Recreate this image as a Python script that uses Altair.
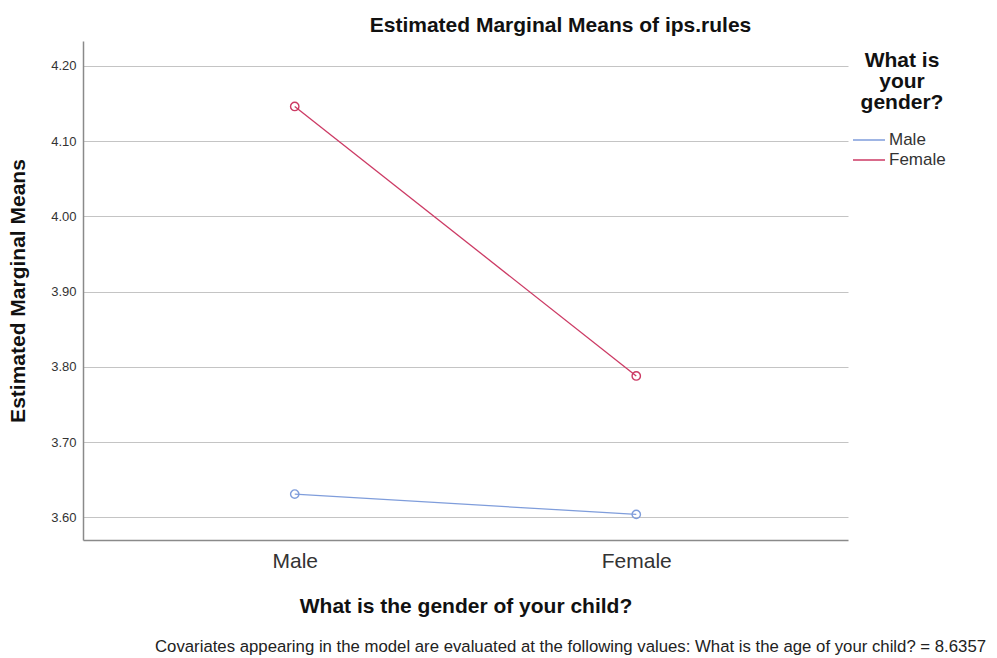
import altair as alt
import pandas as pd

# Estimated marginal means of ips.rules by child gender (x) and parent gender (series)
child_gender = ["Male", "Female"]
parent_gender = ["Male", "Female"]
means_male_parent = [3.631, 3.604]
means_female_parent = [4.146, 3.788]

rows = []
for c, v in zip(child_gender, means_male_parent):
    rows.append({"child": c, "parent": "Male", "mean": v})
for c, v in zip(child_gender, means_female_parent):
    rows.append({"child": c, "parent": "Female", "mean": v})
df = pd.DataFrame(rows)

FONT = "Liberation Sans"
colors = ["#7f9ddb", "#cc3a64"]

x_enc = alt.X(
    "child:N",
    sort=child_gender,
    scale=alt.Scale(type="point", padding=0.62),
    axis=alt.Axis(
        title="What is the gender of your child?",
        titleFontSize=21, titleFontWeight="bold", titleColor="#111",
        titlePadding=24, labelFontSize=21, labelColor="#333",
        labelFontWeight="normal", labelPadding=10, labelAngle=0,
        ticks=False, grid=False, domainColor="#8a8a8a", domainWidth=1.5,
    ),
)
y_enc = alt.Y(
    "mean:Q",
    scale=alt.Scale(domain=[3.57, 4.233], nice=False, zero=False),
    axis=alt.Axis(
        title="Estimated Marginal Means",
        titleFontSize=21, titleFontWeight="bold", titleColor="#111",
        titlePadding=22, labelFontSize=13, labelColor="#333",
        format=".2f", values=[3.6, 3.7, 3.8, 3.9, 4.0, 4.1, 4.2],
        ticks=False, labelPadding=7, grid=True, gridColor="#c4c4c4",
        gridWidth=1, domainColor="#8a8a8a", domainWidth=1.5,
    ),
)
# legend key: a horizontal stroke wider than the symbol cell, so rows stay compact
color_enc = alt.Color(
    "parent:N",
    sort=parent_gender,
    scale=alt.Scale(domain=parent_gender, range=colors),
    legend=alt.Legend(
        title=["What is", "your", "gender?"],
        titleFontSize=21, titleFontWeight="bold", titleColor="#111",
        titleAlign="center", titleAnchor="middle", titleLineHeight=21,
        titlePadding=16, labelFontSize=17, labelColor="#333",
        symbolType="M-1.6,0H1.6", symbolSize=400, symbolStrokeWidth=1.5,
        rowPadding=1, labelOffset=9,
        orient="none", legendX=775, legendY=9,
    ),
)

lines = alt.Chart(df).mark_line(strokeWidth=1.3).encode(
    x=x_enc, y=y_enc, color=color_enc, detail="parent:N"
)
points = alt.Chart(df).mark_point(
    filled=False, size=70, strokeWidth=1.4, shape="circle", opacity=1
).encode(x=x_enc, y=y_enc, color=alt.Color("parent:N", sort=parent_gender,
                                           scale=alt.Scale(domain=parent_gender, range=colors),
                                           legend=None))

note = alt.Chart(pd.DataFrame({"t": [
    "Covariates appearing in the model are evaluated at the following values: What is the age of your child? = 8.6357"
]})).mark_text(
    align="left", baseline="alphabetic", fontSize=16.75, font=FONT, color="#222"
).encode(text="t:N", x=alt.value(72), y=alt.value(611))

chart = alt.layer(lines, points, note).properties(
    width=765,
    height=499,
    title=alt.TitleParams(
        "Estimated Marginal Means of ips.rules",
        fontSize=21, fontWeight="bold", color="#111", font=FONT,
        anchor="middle", dx=95, offset=5,
    ),
    autosize=alt.AutoSizeParams(type="none"),
    padding={"left": 83, "top": 41, "right": 149, "bottom": 118},
).configure(font=FONT).configure_view(stroke=None)

chart.save("out.html", embed_options={"renderer": "svg", "actions": False})
